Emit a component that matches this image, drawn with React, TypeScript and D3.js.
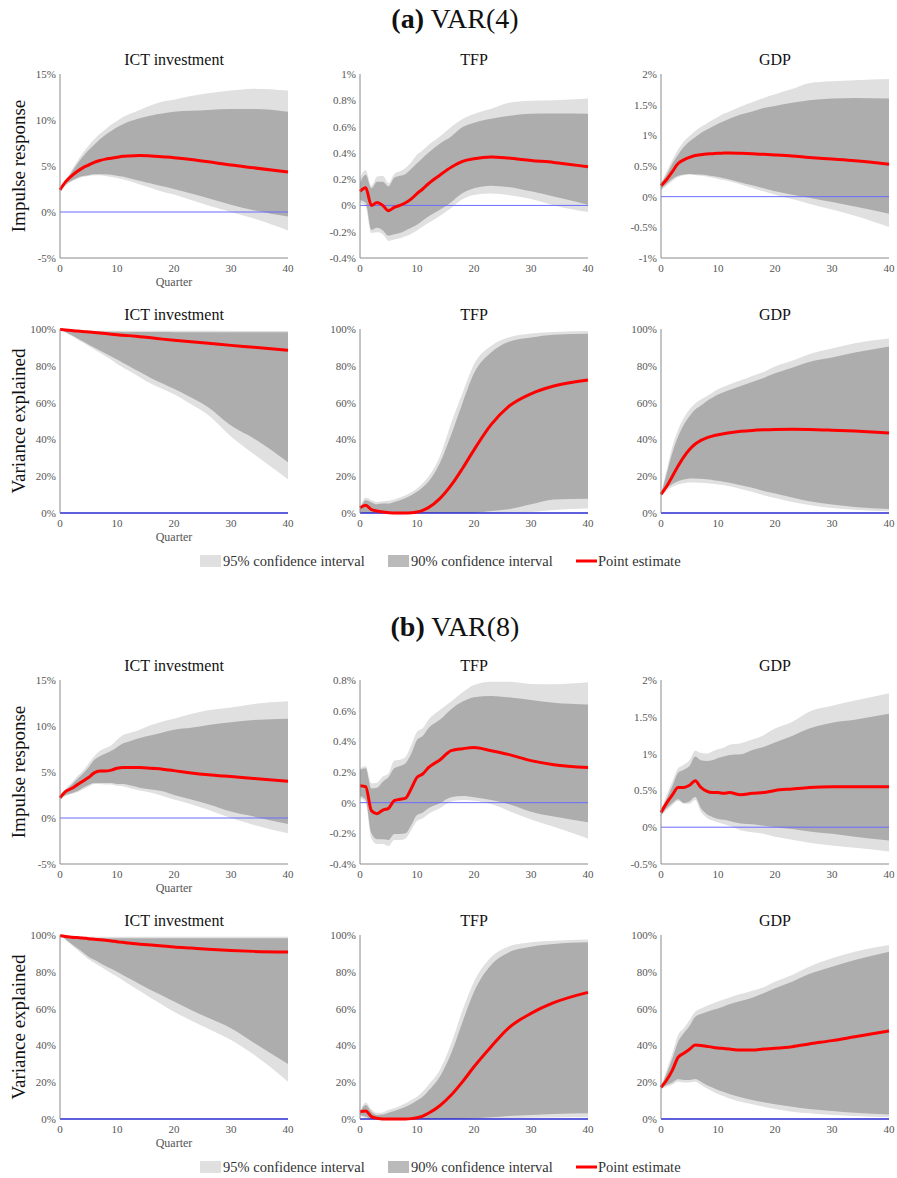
import React from "react";
import * as d3 from "d3";

const Q = [0, 1, 2, 3, 4, 5, 6, 7, 8, 9, 10, 11, 12, 14, 16, 18, 20, 23, 26, 30, 34, 40];

// ---- (a) VAR(4) ----
const ictIrf4Hi95 = [2.5, 3.4, 4.5, 5.5, 6.4, 7.2, 7.9, 8.5, 9.0, 9.5, 9.9, 10.3, 10.6, 11.1, 11.6, 12.0, 12.2, 12.6, 12.9, 13.2, 13.4, 13.2];
const ictIrf4Hi90 = [2.5, 3.3, 4.3, 5.2, 6.0, 6.7, 7.3, 7.9, 8.4, 8.8, 9.2, 9.5, 9.8, 10.2, 10.5, 10.7, 10.9, 11.0, 11.1, 11.2, 11.2, 10.9];
const ictIrf4Pt = [2.4, 3.3, 3.9, 4.4, 4.8, 5.1, 5.4, 5.6, 5.75, 5.85, 5.95, 6.05, 6.1, 6.15, 6.1, 6.0, 5.9, 5.7, 5.45, 5.1, 4.8, 4.35];
const ictIrf4Lo90 = [2.3, 3.0, 3.4, 3.7, 3.9, 4.0, 4.1, 4.1, 4.1, 4.05, 3.95, 3.85, 3.7, 3.4, 3.1, 2.8, 2.5, 2.0, 1.5, 0.8, 0.2, -0.5];
const ictIrf4Lo95 = [2.3, 2.9, 3.3, 3.6, 3.8, 3.9, 4.0, 4.0, 3.9, 3.8, 3.7, 3.55, 3.4, 3.0, 2.6, 2.2, 1.9, 1.3, 0.7, 0.0, -0.7, -2.0];

const tfpIrf4Hi95 = [0.21, 0.27, 0.15, 0.22, 0.226, 0.17, 0.24, 0.26, 0.284, 0.33, 0.385, 0.42, 0.46, 0.525, 0.596, 0.657, 0.695, 0.735, 0.78, 0.796, 0.8, 0.814];
const tfpIrf4Hi90 = [0.17, 0.233, 0.13, 0.18, 0.18, 0.145, 0.21, 0.225, 0.24, 0.28, 0.32, 0.36, 0.4, 0.47, 0.525, 0.596, 0.63, 0.66, 0.68, 0.697, 0.7, 0.697];
const tfpIrf4Pt = [0.107, 0.134, 0.0, 0.023, 0.0, -0.04, -0.015, 0.0, 0.02, 0.05, 0.09, 0.125, 0.165, 0.23, 0.29, 0.335, 0.355, 0.368, 0.36, 0.342, 0.327, 0.294];
const tfpIrf4Lo90 = [0.04, 0.02, -0.185, -0.17, -0.19, -0.23, -0.22, -0.21, -0.19, -0.17, -0.147, -0.115, -0.084, -0.033, 0.025, 0.094, 0.13, 0.15, 0.14, 0.107, 0.068, 0.005];
const tfpIrf4Lo95 = [0.02, -0.01, -0.21, -0.205, -0.22, -0.27, -0.26, -0.25, -0.235, -0.215, -0.19, -0.16, -0.134, -0.08, -0.02, 0.048, 0.08, 0.09, 0.08, 0.048, 0.0, -0.05];

const gdpIrf4Hi95 = [0.22, 0.41, 0.6, 0.77, 0.9, 0.99, 1.07, 1.14, 1.19, 1.25, 1.3, 1.35, 1.39, 1.47, 1.54, 1.61, 1.67, 1.755, 1.85, 1.88, 1.9, 1.92];
const gdpIrf4Hi90 = [0.21, 0.36, 0.54, 0.685, 0.81, 0.9, 0.97, 1.04, 1.09, 1.14, 1.19, 1.23, 1.27, 1.34, 1.39, 1.445, 1.48, 1.53, 1.57, 1.6, 1.61, 1.6];
const gdpIrf4Pt = [0.18, 0.28, 0.41, 0.54, 0.6, 0.64, 0.67, 0.685, 0.695, 0.7, 0.707, 0.71, 0.712, 0.707, 0.7, 0.69, 0.68, 0.663, 0.64, 0.614, 0.587, 0.53];
const gdpIrf4Lo90 = [0.125, 0.21, 0.29, 0.34, 0.36, 0.37, 0.36, 0.36, 0.35, 0.335, 0.32, 0.3, 0.28, 0.23, 0.185, 0.136, 0.087, 0.03, -0.016, -0.087, -0.16, -0.28];
const gdpIrf4Lo95 = [0.1, 0.18, 0.255, 0.32, 0.35, 0.36, 0.355, 0.34, 0.33, 0.31, 0.29, 0.27, 0.25, 0.2, 0.14, 0.087, 0.03, -0.04, -0.114, -0.21, -0.31, -0.495];

const ictVd4Hi95 = [100, 99.6, 99.4, 99.3, 99.2, 99.1, 99.1, 99.0, 99.0, 99.0, 99.0, 99.0, 99.0, 99.0, 99.0, 99.0, 99.0, 99.0, 99.0, 98.9, 98.9, 98.9];
const ictVd4Hi90 = [100, 99.4, 99.1, 98.9, 98.8, 98.7, 98.6, 98.6, 98.5, 98.5, 98.5, 98.4, 98.4, 98.4, 98.4, 98.4, 98.3, 98.3, 98.3, 98.3, 98.2, 98.2];
const ictVd4Pt = [99.8, 99.5, 99.2, 98.9, 98.7, 98.4, 98.1, 97.8, 97.5, 97.2, 96.9, 96.6, 96.4, 95.8, 95.2, 94.5, 93.9, 93.1, 92.3, 91.1, 90.1, 88.4];
const ictVd4Lo90 = [100, 98.3, 96.7, 95.0, 93.3, 91.6, 90.0, 88.3, 86.7, 85.0, 83.4, 81.7, 80.0, 76.6, 73.3, 70.4, 67.5, 62.8, 57.5, 47.5, 40.5, 27.6];
const ictVd4Lo95 = [100, 98.1, 96.3, 94.4, 92.6, 90.7, 88.9, 87.1, 85.2, 83.3, 81.0, 79.2, 77.4, 73.8, 70.2, 67.4, 64.6, 59.1, 53.3, 41.6, 32.0, 18.4];

const tfpVd4Hi95 = [2.4, 8.4, 6.9, 6.0, 6.4, 6.6, 7.3, 8.4, 9.7, 11.3, 13.3, 16.2, 19.7, 30.7, 48.9, 65.3, 80.8, 90.9, 95.4, 97.6, 98.4, 98.9];
const tfpVd4Hi90 = [2.0, 6.9, 5.7, 4.7, 5.1, 5.1, 6.0, 6.9, 8.2, 9.7, 11.5, 14.0, 17.0, 27.0, 42.5, 59.9, 75.9, 87.2, 93.0, 95.4, 96.9, 97.4];
const tfpVd4Pt = [2.9, 4.2, 1.8, 1.1, 0.5, 0.2, 0.0, 0.0, 0.0, 0.1, 0.5, 1.4, 2.9, 7.8, 15.1, 24.3, 34.3, 48.0, 57.7, 64.8, 69.0, 72.3];
const tfpVd4Lo90 = [0.5, 0, 0, 0, 0, 0, 0, 0, 0, 0, 0, 0, 0, 0, 0, 0, 0.2, 1.1, 2.0, 4.7, 7.3, 7.7];
const tfpVd4Lo95 = [0, 0, 0, 0, 0, 0, 0, 0, 0, 0, 0, 0, 0, 0, 0, 0, 0, 0, 0.1, 0.5, 1.6, 2.4];

const gdpVd4Hi95 = [10.6, 23.4, 36.1, 45.3, 51.6, 56.2, 59.5, 61.7, 63.5, 65.4, 67.2, 68.6, 69.9, 72.1, 74.5, 76.6, 79.6, 82.7, 86.3, 89.4, 92.3, 94.9];
const gdpVd4Hi90 = [10.2, 21.5, 32.8, 41.6, 48.0, 52.6, 56.2, 58.4, 60.8, 62.6, 64.4, 65.6, 66.8, 69.0, 71.2, 73.4, 75.9, 79.0, 82.1, 84.5, 87.2, 90.5];
const gdpVd4Pt = [10.2, 14.5, 20.0, 25.5, 30.5, 34.5, 37.5, 39.5, 40.8, 41.8, 42.5, 43.1, 43.6, 44.4, 44.9, 45.2, 45.4, 45.5, 45.4, 45.0, 44.5, 43.5];
const gdpVd4Lo90 = [9.7, 13.3, 15.7, 17.3, 18.2, 18.8, 18.8, 18.6, 18.4, 18.0, 17.5, 17.0, 16.4, 15.1, 13.7, 12.0, 10.6, 8.4, 6.4, 4.6, 3.3, 2.2];
const gdpVd4Lo95 = [9.1, 12.0, 14.2, 15.5, 16.2, 16.6, 16.6, 16.4, 16.2, 15.9, 15.5, 15.1, 14.6, 13.1, 11.5, 9.7, 8.2, 6.0, 4.4, 2.7, 1.8, 0.9];

// ---- (b) VAR(8) ----
const ictIrf8Hi95 = [2.3, 3.2, 3.8, 4.5, 5.1, 5.9, 6.7, 7.3, 7.6, 7.9, 8.5, 9.0, 9.2, 9.6, 10.1, 10.5, 10.8, 11.3, 11.7, 12.0, 12.4, 12.7];
const ictIrf8Hi90 = [2.25, 3.0, 3.6, 4.2, 4.8, 5.5, 6.3, 6.7, 7.0, 7.3, 7.7, 8.1, 8.3, 8.7, 9.0, 9.3, 9.6, 9.8, 10.1, 10.4, 10.65, 10.8];
const ictIrf8Pt = [2.2, 2.9, 3.2, 3.6, 4.0, 4.4, 4.9, 5.1, 5.1, 5.2, 5.4, 5.5, 5.5, 5.5, 5.4, 5.3, 5.15, 4.9, 4.7, 4.5, 4.3, 4.0];
const ictIrf8Lo90 = [2.1, 2.5, 2.7, 2.9, 3.3, 3.6, 3.8, 3.8, 3.8, 3.8, 3.7, 3.7, 3.6, 3.3, 3.1, 2.9, 2.5, 2.0, 1.5, 0.7, 0.15, -0.65];
const ictIrf8Lo95 = [2.05, 2.4, 2.6, 2.8, 3.1, 3.4, 3.7, 3.7, 3.65, 3.65, 3.5, 3.45, 3.3, 3.0, 2.75, 2.4, 2.0, 1.5, 0.9, 0.0, -0.75, -1.67];

const tfpIrf8Hi95 = [0.224, 0.239, 0.126, 0.13, 0.17, 0.19, 0.274, 0.28, 0.3, 0.376, 0.463, 0.485, 0.54, 0.604, 0.659, 0.72, 0.767, 0.789, 0.789, 0.774, 0.772, 0.785];
const tfpIrf8Hi90 = [0.213, 0.224, 0.093, 0.098, 0.137, 0.165, 0.224, 0.239, 0.257, 0.32, 0.409, 0.435, 0.485, 0.54, 0.61, 0.659, 0.687, 0.696, 0.687, 0.67, 0.652, 0.641];
const tfpIrf8Pt = [0.11, 0.104, -0.052, -0.072, -0.048, -0.037, 0.013, 0.022, 0.03, 0.093, 0.165, 0.187, 0.228, 0.278, 0.339, 0.352, 0.36, 0.339, 0.315, 0.274, 0.248, 0.23];
const tfpIrf8Lo90 = [0.043, 0.017, -0.2, -0.239, -0.239, -0.243, -0.204, -0.204, -0.2, -0.146, -0.08, -0.065, -0.037, -0.004, 0.035, 0.043, 0.035, 0.017, -0.009, -0.059, -0.091, -0.128];
const tfpIrf8Lo95 = [0.028, 0.0, -0.233, -0.27, -0.27, -0.283, -0.243, -0.243, -0.233, -0.178, -0.12, -0.102, -0.074, -0.037, 0.007, 0.017, 0.013, -0.009, -0.052, -0.109, -0.157, -0.233];

const gdpIrf8Hi95 = [0.23, 0.44, 0.62, 0.8, 0.85, 0.91, 1.04, 1.01, 1.0, 1.03, 1.06, 1.08, 1.12, 1.14, 1.19, 1.25, 1.34, 1.43, 1.57, 1.65, 1.72, 1.82];
const gdpIrf8Hi90 = [0.22, 0.39, 0.56, 0.74, 0.78, 0.83, 0.96, 0.91, 0.9, 0.91, 0.94, 0.96, 0.98, 0.99, 1.05, 1.09, 1.15, 1.24, 1.34, 1.42, 1.46, 1.54];
const gdpIrf8Pt = [0.2, 0.33, 0.44, 0.54, 0.54, 0.57, 0.63, 0.54, 0.49, 0.47, 0.47, 0.46, 0.47, 0.44, 0.46, 0.47, 0.5, 0.52, 0.54, 0.55, 0.55, 0.55];
const gdpIrf8Lo90 = [0.17, 0.26, 0.33, 0.38, 0.33, 0.35, 0.41, 0.26, 0.18, 0.14, 0.11, 0.1, 0.085, 0.05, 0.04, 0.02, 0.0, -0.025, -0.06, -0.09, -0.13, -0.18];
const gdpIrf8Lo95 = [0.15, 0.23, 0.3, 0.36, 0.32, 0.32, 0.37, 0.21, 0.13, 0.09, 0.065, 0.045, 0.02, -0.04, -0.07, -0.09, -0.13, -0.17, -0.21, -0.25, -0.28, -0.33];

const ictVd8Hi95 = [100, 99.5, 99.3, 99.2, 99.1, 99.1, 99.0, 99.0, 99.0, 99.0, 99.0, 99.0, 99.0, 99.0, 99.0, 99.0, 99.0, 99.0, 99.0, 99.0, 99.0, 99.0];
const ictVd8Hi90 = [100, 99.2, 98.9, 98.7, 98.6, 98.5, 98.4, 98.4, 98.3, 98.3, 98.3, 98.3, 98.3, 98.3, 98.2, 98.2, 98.2, 98.2, 98.2, 98.2, 98.2, 98.2];
const ictVd8Pt = [99.6, 99.2, 98.8, 98.6, 98.4, 98.0, 97.7, 97.4, 97.1, 96.8, 96.3, 96.0, 95.6, 95.0, 94.5, 94.0, 93.5, 92.9, 92.3, 91.6, 91.1, 90.7];
const ictVd8Lo90 = [100, 97.6, 95.2, 92.9, 90.6, 88.2, 86.5, 84.8, 83.2, 81.6, 80.0, 78.3, 76.6, 73.3, 70.0, 67.0, 63.8, 59.3, 55.0, 49.3, 41.5, 29.9];
const ictVd8Lo95 = [100, 97.3, 94.6, 92.0, 89.4, 86.8, 84.9, 83.0, 81.1, 79.2, 77.4, 75.4, 73.4, 69.5, 65.6, 62.0, 58.3, 53.5, 49.0, 42.9, 35.0, 20.3];

const tfpVd8Hi95 = [4.0, 9.0, 5.3, 3.4, 3.6, 4.9, 5.8, 7.1, 8.5, 10.3, 12.1, 14.9, 18.5, 26.6, 41.0, 59.2, 74.6, 87.9, 93.6, 96.0, 96.9, 97.6];
const tfpVd8Hi90 = [3.6, 7.6, 4.0, 2.2, 2.4, 3.4, 4.3, 5.4, 6.7, 8.2, 10.0, 12.1, 15.4, 23.0, 35.7, 52.9, 69.2, 83.7, 90.4, 93.6, 95.1, 96.0];
const tfpVd8Pt = [4.0, 4.3, 1.3, 0.4, 0, 0, 0, 0, 0, 0.2, 0.7, 1.6, 3.1, 7.2, 13.0, 20.3, 28.4, 39.3, 49.3, 57.4, 63.2, 68.8];
const tfpVd8Lo90 = [2.2, 1.3, 0, 0, 0, 0, 0, 0, 0, 0, 0, 0, 0, 0, 0, 0, 0.4, 0.9, 1.6, 2.2, 2.7, 3.1];
const tfpVd8Lo95 = [1.6, 0.4, 0, 0, 0, 0, 0, 0, 0, 0, 0, 0, 0, 0, 0, 0, 0, 0.1, 0.4, 0.7, 0.8, 0.9];

const gdpVd8Hi95 = [17.6, 26.6, 35.7, 45.7, 49.3, 53.8, 58.3, 60.1, 61.4, 62.6, 63.8, 65.0, 66.1, 67.9, 69.7, 71.6, 74.6, 78.3, 82.8, 87.3, 90.9, 94.6];
const gdpVd8Hi90 = [17.2, 24.8, 32.9, 42.0, 46.6, 50.5, 55.6, 57.1, 58.2, 59.2, 60.1, 61.2, 62.3, 64.1, 65.9, 68.3, 71.0, 74.6, 78.8, 82.8, 86.4, 90.9];
const gdpVd8Pt = [17.2, 21.2, 26.6, 33.5, 35.7, 37.9, 40.2, 40.0, 39.5, 39.0, 38.6, 38.3, 38.0, 37.5, 37.5, 38.0, 38.4, 39.3, 40.8, 42.6, 44.7, 47.8];
const gdpVd8Lo90 = [16.7, 18.5, 19.9, 21.6, 21.2, 21.2, 21.7, 20.3, 18.5, 17.1, 15.8, 14.7, 13.6, 11.8, 10.3, 9.1, 8.0, 6.7, 5.4, 4.3, 3.4, 2.5];
const gdpVd8Lo95 = [16.3, 17.6, 18.8, 20.3, 19.9, 19.9, 20.3, 18.5, 16.7, 15.1, 13.6, 12.4, 11.2, 9.4, 8.0, 6.7, 5.4, 4.0, 3.1, 2.2, 1.6, 0.9];

const vdTicks = [0, 20, 40, 60, 80, 100];
const xTicks = [0, 10, 20, 30, 40];

const mk = (title, domain, ticks, lo95, lo90, pt, hi90, hi95) => ({ title, domain, ticks, lo95, lo90, pt, hi90, hi95 });

const irf4 = [
  mk("ICT investment", [-5, 15], [-5, 0, 5, 10, 15], ictIrf4Lo95, ictIrf4Lo90, ictIrf4Pt, ictIrf4Hi90, ictIrf4Hi95),
  mk("TFP", [-0.4, 1], [-0.4, -0.2, 0, 0.2, 0.4, 0.6, 0.8, 1], tfpIrf4Lo95, tfpIrf4Lo90, tfpIrf4Pt, tfpIrf4Hi90, tfpIrf4Hi95),
  mk("GDP", [-1, 2], [-1, -0.5, 0, 0.5, 1, 1.5, 2], gdpIrf4Lo95, gdpIrf4Lo90, gdpIrf4Pt, gdpIrf4Hi90, gdpIrf4Hi95),
];
const vd4 = [
  mk("ICT investment", [0, 100], vdTicks, ictVd4Lo95, ictVd4Lo90, ictVd4Pt, ictVd4Hi90, ictVd4Hi95),
  mk("TFP", [0, 100], vdTicks, tfpVd4Lo95, tfpVd4Lo90, tfpVd4Pt, tfpVd4Hi90, tfpVd4Hi95),
  mk("GDP", [0, 100], vdTicks, gdpVd4Lo95, gdpVd4Lo90, gdpVd4Pt, gdpVd4Hi90, gdpVd4Hi95),
];
const irf8 = [
  mk("ICT investment", [-5, 15], [-5, 0, 5, 10, 15], ictIrf8Lo95, ictIrf8Lo90, ictIrf8Pt, ictIrf8Hi90, ictIrf8Hi95),
  mk("TFP", [-0.4, 0.8], [-0.4, -0.2, 0, 0.2, 0.4, 0.6, 0.8], tfpIrf8Lo95, tfpIrf8Lo90, tfpIrf8Pt, tfpIrf8Hi90, tfpIrf8Hi95),
  mk("GDP", [-0.5, 2], [-0.5, 0, 0.5, 1, 1.5, 2], gdpIrf8Lo95, gdpIrf8Lo90, gdpIrf8Pt, gdpIrf8Hi90, gdpIrf8Hi95),
];
const vd8 = [
  mk("ICT investment", [0, 100], vdTicks, ictVd8Lo95, ictVd8Lo90, ictVd8Pt, ictVd8Hi90, ictVd8Hi95),
  mk("TFP", [0, 100], vdTicks, tfpVd8Lo95, tfpVd8Lo90, tfpVd8Pt, tfpVd8Hi90, tfpVd8Hi95),
  mk("GDP", [0, 100], vdTicks, gdpVd8Lo95, gdpVd8Lo90, gdpVd8Pt, gdpVd8Hi90, gdpVd8Hi95),
];

const SERIF = "'Liberation Serif', 'DejaVu Serif', serif";
const C95 = "#e0e0e0";
const C90 = "#adadad";
const RED = "#ff0000";
const colX = [60, 360, 661];
const PW = 228;
const PH = 184;

const pct = (v) => `${parseFloat(v.toFixed(2)) || 0}%`;

function Panel({ x0, y0, spec, quarter, isVd }) {
  const x = d3.scaleLinear().domain([0, 40]).range([x0, x0 + PW]);
  const y = d3.scaleLinear().domain(spec.domain).range([y0 + PH, y0]);
  const rows = Q.map((q, i) => ({
    q, lo95: spec.lo95[i], lo90: spec.lo90[i], pt: spec.pt[i], hi90: spec.hi90[i], hi95: spec.hi95[i],
  }));
  const band = (lo, hi) =>
    d3.area().x((d) => x(d.q)).y0((d) => y(d[lo])).y1((d) => y(d[hi])).curve(d3.curveMonotoneX)(rows);
  const line = d3.line().x((d) => x(d.q)).y((d) => y(d.pt)).curve(d3.curveMonotoneX)(rows);
  const yb = y0 + PH;
  return (
    <g>
      <text x={x0 + PW / 2} y={y0 - 9} textAnchor="middle" fontFamily={SERIF} fontSize={16} fill="#111">
        {spec.title}
      </text>
      <path d={band("lo95", "hi95")} fill={C95} />
      <path d={band("lo90", "hi90")} fill={C90} />
      <line x1={x0} x2={x0 + PW} y1={y(0)} y2={y(0)} stroke={isVd ? "#2a2ad0" : "#6b6bff"} strokeWidth={isVd ? 1.6 : 1} />
      <path d={line} fill="none" stroke={RED} strokeWidth={3} strokeLinejoin="round" />
      <line x1={x0} x2={x0} y1={y0} y2={yb} stroke="#8a8a8a" strokeWidth={1} />
      {!isVd && <line x1={x0} x2={x0 + PW} y1={yb} y2={yb} stroke="#8a8a8a" strokeWidth={1} />}
      {spec.ticks.map((t) => (
        <text key={t} x={x0 - 4} y={y(t) + 4} textAnchor="end" fontFamily={SERIF} fontSize={11} fill="#555">
          {pct(t)}
        </text>
      ))}
      {xTicks.map((t) => (
        <text key={t} x={x(t)} y={yb + 14} textAnchor="middle" fontFamily={SERIF} fontSize={11} fill="#555">
          {t}
        </text>
      ))}
      {quarter && (
        <text x={x0 + PW / 2} y={yb + 28} textAnchor="middle" fontFamily={SERIF} fontSize={12} fill="#555">
          Quarter
        </text>
      )}
    </g>
  );
}

function Legend({ cy }) {
  const t = { fontFamily: SERIF, fontSize: 14.5, fill: "#333" };
  return (
    <g>
      <rect x={200} y={cy - 6} width={21} height={12} fill={C95} />
      <text x={223} y={cy + 5} {...t}>95% confidence interval</text>
      <rect x={388} y={cy - 6} width={21} height={12} fill="#bababa" />
      <text x={411} y={cy + 5} {...t}>90% confidence interval</text>
      <line x1={576} x2={597} y1={cy} y2={cy} stroke={RED} strokeWidth={3} />
      <text x={598} y={cy + 5} {...t}>Point estimate</text>
    </g>
  );
}

function Block({ label, name, irf, vd, irfTop, vdTop, legendY, titleY }) {
  return (
    <g>
      <text x={455} y={titleY} textAnchor="middle" fontFamily={SERIF} fontSize={28} fill="#111">
        <tspan fontWeight="bold">{label}</tspan> {name}
      </text>
      {irf.map((s, i) => (
        <Panel key={"i" + i} x0={colX[i]} y0={irfTop} spec={s} quarter={i === 0} isVd={false} />
      ))}
      {vd.map((s, i) => (
        <Panel key={"v" + i} x0={colX[i]} y0={vdTop} spec={s} quarter={i === 0} isVd={true} />
      ))}
      <text transform={`translate(25,${irfTop + PH / 2}) rotate(-90)`} textAnchor="middle" fontFamily={SERIF} fontSize={19} fill="#111">
        Impulse response
      </text>
      <text transform={`translate(25,${vdTop + PH / 2}) rotate(-90)`} textAnchor="middle" fontFamily={SERIF} fontSize={19} fill="#111">
        Variance explained
      </text>
      <Legend cy={legendY} />
    </g>
  );
}

export default function App() {
  return (
    <svg width={897} height={1178} style={{ position: "absolute", left: 0, top: 0, background: "#fff" }}>
      <Block label="(a)" name="VAR(4)" irf={irf4} vd={vd4} irfTop={74} vdTop={329} legendY={561} titleY={28} />
      <Block label="(b)" name="VAR(8)" irf={irf8} vd={vd8} irfTop={680} vdTop={935} legendY={1167} titleY={636} />
    </svg>
  );
}
